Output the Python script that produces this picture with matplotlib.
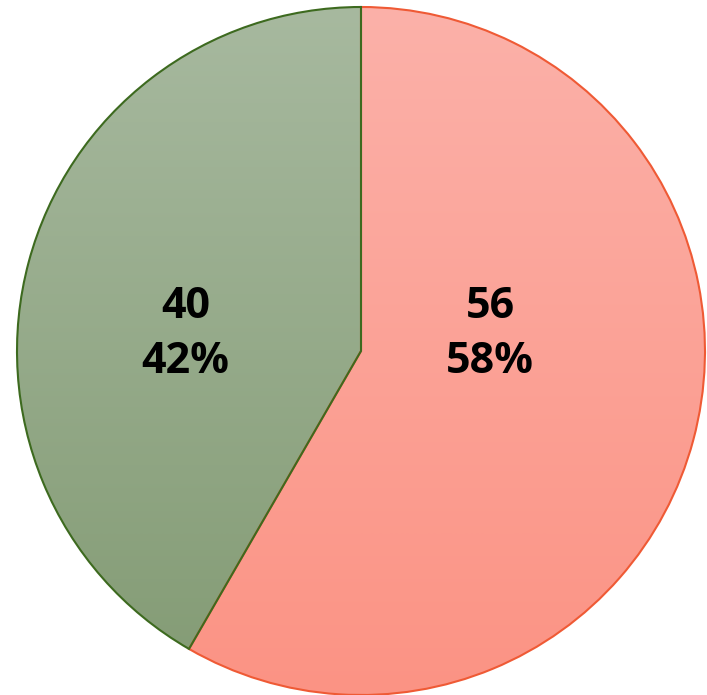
import numpy as np
import matplotlib.pyplot as plt
from matplotlib.colors import LinearSegmentedColormap

# data
values = [56, 40]
percents = ["58%", "42%"]
top_colors = ["#fbb1a9", "#a7b99f"]
bottom_colors = ["#fc9384", "#839b74"]
edge_colors = ["#ef5a35", "#3d6a1f"]

W, H = 707, 695
cx, cy, rad = 361, 351, 344  # pie centre / radius in pixels

fig = plt.figure(figsize=(W / 100, H / 100), dpi=100)
ax = fig.add_axes([0, 0, 1, 1])
ax.set_aspect("equal")
ax.axis("off")

wedges, _ = ax.pie(values, startangle=90, counterclock=False, radius=1,
                   wedgeprops=dict(linewidth=1.5))

grad = np.linspace(0, 1, 256).reshape(-1, 1)
for w, c0, c1, ec in zip(wedges, top_colors, bottom_colors, edge_colors):
    w.set_facecolor("none")
    w.set_edgecolor(ec)
    w.set_zorder(3)
    cmap = LinearSegmentedColormap.from_list("g", [c0, c1])
    im = ax.imshow(grad, cmap=cmap, extent=[-1, 1, -1, 1], origin="upper",
                   aspect="auto", zorder=1)
    im.set_clip_path(w)

# label placement (data units)
label_pos = [(0.375, 0.05), (-0.51, 0.05)]
for (x, y), v, p in zip(label_pos, values, percents):
    ax.text(x, y, f"{v}\n{p}", ha="center", va="center", fontsize=31,
            fontweight="bold", family="Open Sans", linespacing=1.35, zorder=4)

ax.set_xlim(-cx / rad, (W - cx) / rad)
ax.set_ylim(-(H - cy) / rad, cy / rad)
fig.savefig("out.png", dpi=100)
